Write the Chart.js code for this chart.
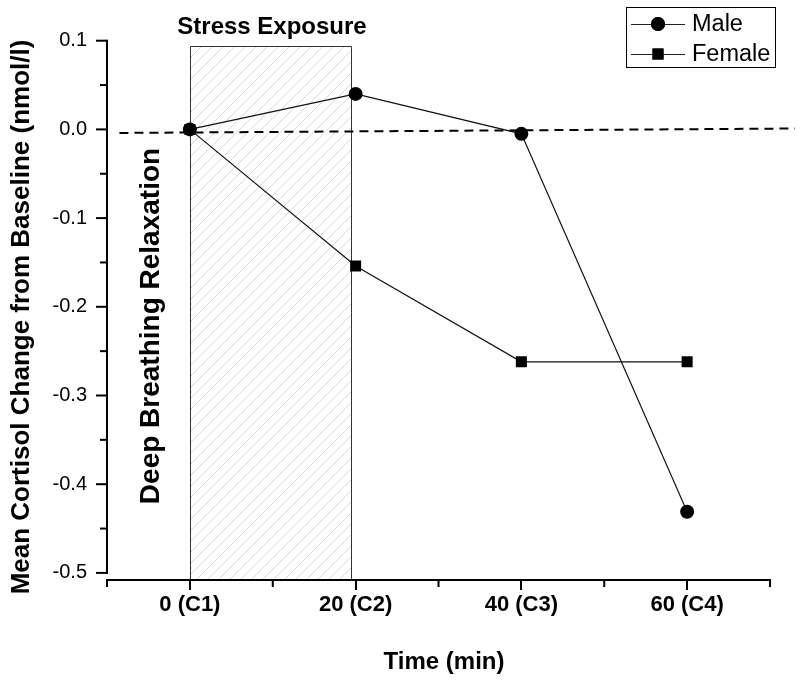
<!DOCTYPE html>
<html>
<head>
<meta charset="utf-8">
<script src="https://cdn.jsdelivr.net/npm/chart.js@4"></script>
<style>
  html, body { margin: 0; padding: 0; background: #fff; }
</style>
</head>
<body>
<canvas id="cortisolChart" width="800" height="684"></canvas>
<script>
const timePoints = [0, 20, 40, 60];
const timeLabels = ["0 (C1)", "20 (C2)", "40 (C3)", "60 (C4)"];
const maleValues = [0, 0.04, -0.005, -0.431];
const femaleValues = [0, -0.154, -0.262, -0.262];
const baselineX = [-8.5, 73];
const baselineY = [-0.004, 0.001];
const stressWindow = [0, 19.5];
const stressTop = 0.094;
const yMajorTicks = [0.1, 0, -0.1, -0.2, -0.3, -0.4, -0.5];
const yMinorTicks = [0.05, -0.05, -0.15, -0.25, -0.35, -0.45];
const xMinorTicks = [-10, 10, 30, 50, 70];

const FONT = "'Liberation Sans', Arial, sans-serif";
Chart.defaults.font.family = FONT;
Chart.defaults.color = "#000";

const toPoints = (xs, ys) => xs.map((v, i) => ({ x: v, y: ys[i] }));

// hatched stress box, y axis line, ticks, annotations and legend
const decorations = {
  id: "decorations",
  beforeDatasetsDraw(chart) {
    const { ctx, chartArea, scales: { x, y } } = chart;
    const left = Math.round(x.getPixelForValue(stressWindow[0])) + 0.5;
    const right = Math.round(x.getPixelForValue(stressWindow[1])) + 0.5;
    const top = Math.round(y.getPixelForValue(stressTop)) + 0.5;
    const bottom = chartArea.bottom - 1;
    const h = bottom - top;
    ctx.save();
    ctx.beginPath();
    ctx.rect(left, top, right - left, h);
    ctx.clip();
    ctx.strokeStyle = "#d8d8d8";
    ctx.lineWidth = 1;
    for (let k = left - h; k < right; k += 11) {
      ctx.beginPath();
      ctx.moveTo(k, bottom);
      ctx.lineTo(k + h, top);
      ctx.stroke();
    }
    ctx.restore();
    ctx.save();
    ctx.strokeStyle = "#333";
    ctx.lineWidth = 1;
    ctx.beginPath();
    ctx.moveTo(left, bottom);
    ctx.lineTo(left, top);
    ctx.lineTo(right, top);
    ctx.lineTo(right, bottom);
    ctx.stroke();
    ctx.restore();
  },
  afterDraw(chart) {
    const { ctx, chartArea, scales: { x, y } } = chart;
    ctx.save();
    ctx.strokeStyle = "#000";
    ctx.lineWidth = 2;
    // y axis line stops at the last major tick
    ctx.beginPath();
    ctx.moveTo(chartArea.left, y.getPixelForValue(yMajorTicks[0]) - 1);
    ctx.lineTo(chartArea.left, y.getPixelForValue(yMajorTicks[yMajorTicks.length - 1]) + 1);
    ctx.stroke();
    yMajorTicks.forEach((v) => {
      const py = y.getPixelForValue(v);
      ctx.beginPath();
      ctx.moveTo(chartArea.left - 11, py);
      ctx.lineTo(chartArea.left, py);
      ctx.stroke();
    });
    yMinorTicks.forEach((v) => {
      const py = y.getPixelForValue(v);
      ctx.beginPath();
      ctx.moveTo(chartArea.left - 7, py);
      ctx.lineTo(chartArea.left, py);
      ctx.stroke();
    });
    xMinorTicks.forEach((v) => {
      const px = x.getPixelForValue(v);
      ctx.beginPath();
      ctx.moveTo(px, chartArea.bottom);
      ctx.lineTo(px, chartArea.bottom + 7);
      ctx.stroke();
    });

    // labels
    ctx.fillStyle = "#000";
    ctx.textAlign = "center";
    ctx.textBaseline = "middle";
    ctx.font = "bold 24px " + FONT;
    ctx.fillText("Stress Exposure", 272, 27);
    ctx.save();
    ctx.translate(151, 326);
    ctx.rotate(-Math.PI / 2);
    ctx.font = "bold 28px " + FONT;
    ctx.fillText("Deep Breathing Relaxation", 0, 0);
    ctx.restore();
    ctx.save();
    ctx.translate(22, 317);
    ctx.rotate(-Math.PI / 2);
    ctx.font = "bold 26px " + FONT;
    ctx.fillText("Mean Cortisol Change from Baseline (nmol/l)", 0, 0);
    ctx.restore();
    ctx.font = "bold 24px " + FONT;
    ctx.fillText("Time (min)", 444, 662);
    ctx.restore();

    // legend
    ctx.save();
    ctx.strokeStyle = "#000";
    ctx.lineWidth = 1;
    ctx.strokeRect(626.5, 7.5, 149, 60);
    const rows = [
      { text: "Male", y: 24, style: "circle", r: 7 },
      { text: "Female", y: 54, style: "rect", r: 7.8 },
    ];
    rows.forEach((row) => {
      ctx.strokeStyle = "#222";
      ctx.beginPath();
      ctx.moveTo(631, row.y + 0.5);
      ctx.lineTo(685, row.y + 0.5);
      ctx.stroke();
      ctx.fillStyle = "#000";
      Chart.helpers.drawPoint(ctx, { pointStyle: row.style, radius: row.r, borderWidth: 0 }, 658, row.y);
      ctx.fill();
      ctx.font = "23.5px " + FONT;
      ctx.textAlign = "left";
      ctx.textBaseline = "middle";
      ctx.fillText(row.text, 692, row.y + 1);
    });
    ctx.restore();
  },
};

new Chart(document.getElementById("cortisolChart").getContext("2d"), {
  type: "scatter",
  data: {
    datasets: [
      {
        label: "Male",
        data: toPoints(timePoints, maleValues),
        showLine: true,
        borderColor: "#111",
        backgroundColor: "#000",
        borderWidth: 1.2,
        pointStyle: "circle",
        pointRadius: 7,
        pointBorderWidth: 0,
      },
      {
        label: "Female",
        data: toPoints(timePoints, femaleValues),
        showLine: true,
        borderColor: "#111",
        backgroundColor: "#000",
        borderWidth: 1.2,
        pointStyle: "rect",
        pointRadius: 7.8,
        pointBorderWidth: 0,
      },
      {
        label: "Baseline",
        data: toPoints(baselineX, baselineY),
        showLine: true,
        borderColor: "#000",
        borderWidth: 2,
        borderDash: [9, 6],
        pointRadius: 0,
        clip: false,
      },
    ],
  },
  options: {
    responsive: false,
    animation: false,
    events: [],
    layout: { padding: { top: 40.7, right: 30, left: 0, bottom: 0 } },
    plugins: {
      legend: { display: false },
      tooltip: { enabled: false },
    },
    scales: {
      x: {
        type: "linear",
        min: -10,
        max: 70,
        afterFit: (s) => { s.height = 104; },
        afterBuildTicks: (s) => { s.ticks = timePoints.map((v) => ({ value: v })); },
        border: { color: "#000", width: 2 },
        grid: { drawOnChartArea: false, drawTicks: true, tickLength: 10, color: "#000", lineWidth: 2 },
        ticks: {
          autoSkip: false,
          maxRotation: 0,
          padding: 2,
          font: { size: 22, weight: "bold" },
          callback: (v) => timeLabels[timePoints.indexOf(v)],
        },
      },
      y: {
        type: "linear",
        min: -0.508,
        max: 0.1,
        afterFit: (s) => { s.width = 107; },
        afterBuildTicks: (s) => { s.ticks = yMajorTicks.map((v) => ({ value: v })); },
        border: { display: false },
        grid: { display: false, drawOnChartArea: false, tickLength: 11 },
        ticks: {
          padding: 9,
          font: { size: 20 },
          callback: (v) => v.toFixed(1),
        },
      },
    },
  },
  plugins: [decorations],
});
</script>
</body>
</html>
